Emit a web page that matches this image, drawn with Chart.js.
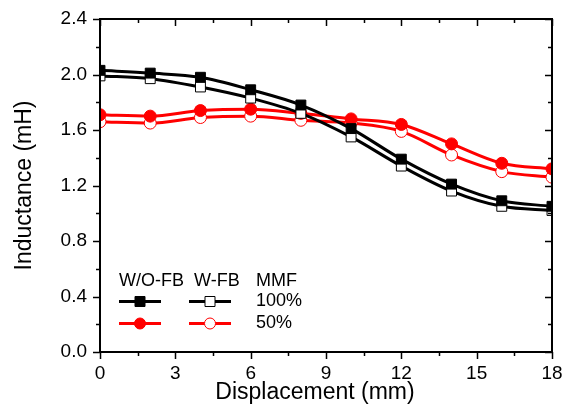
<!DOCTYPE html>
<html>
<head>
<meta charset="utf-8">
<script src="https://cdn.jsdelivr.net/npm/chart.js@4"></script>
<style>
  html, body { margin: 0; padding: 0; background: #fff; }
  #wrap { width: 568px; height: 409px; }
</style>
</head>
<body>
<div id="wrap"><canvas id="chartId" width="568" height="409"></canvas></div>
<script>
// displacement (mm)
var displacement = [0, 2, 4, 6, 8, 10, 12, 14, 16, 18]
// inductance (mH)
var woFb100 = [2.03, 2.01, 1.98, 1.89, 1.78, 1.61, 1.39, 1.21, 1.09, 1.05]
var wFb100  = [1.99, 1.97, 1.91, 1.83, 1.72, 1.55, 1.34, 1.16, 1.05, 1.02]
var woFb50  = [1.71, 1.70, 1.74, 1.75, 1.72, 1.68, 1.64, 1.50, 1.36, 1.32]
var wFb50   = [1.66, 1.65, 1.69, 1.70, 1.67, 1.65, 1.59, 1.42, 1.30, 1.26]
var xTicks = [0, 3, 6, 9, 12, 15, 18]
var yTicks = [0.0, 0.4, 0.8, 1.2, 1.6, 2.0, 2.4]

function pts(ys){
    return displacement.map((x, i) => ({x: x, y: ys[i]}))
}

var font = "'Liberation Sans', Arial, sans-serif"

// frame: ticks out on bottom/left, in on top/right + x title + the table-like legend
const framePlugin = {
    id: 'frame',
    afterDraw(chart){
        const ctx = chart.ctx
        const a = chart.chartArea
        const xs = chart.scales.x, ys = chart.scales.y
        ctx.save()
        ctx.strokeStyle = '#000'
        ctx.lineWidth = 2
        ctx.strokeRect(a.left, a.top, a.right - a.left, a.bottom - a.top)
        ctx.lineWidth = 1.5
        ctx.beginPath()
        for (let v = 0; v <= 18.001; v += 1.5) {
            const p = Math.round(xs.getPixelForValue(v)) + 0.5
            const len = (Math.abs(v % 3) < 0.01) ? 7 : 4
            ctx.moveTo(p, a.bottom); ctx.lineTo(p, a.bottom + len)
            ctx.moveTo(p, a.top); ctx.lineTo(p, a.top + len)
        }
        for (let v = 0; v <= 2.4001; v += 0.2) {
            const p = Math.round(ys.getPixelForValue(v)) + 0.5
            const major = Math.abs((v / 0.4) - Math.round(v / 0.4)) < 0.01
            const len = major ? 7 : 4
            ctx.moveTo(a.left, p); ctx.lineTo(a.left - len, p)
            ctx.moveTo(a.right, p); ctx.lineTo(a.right - len, p)
        }
        ctx.stroke()

        // x axis title (sits a bit left of centre in the original)
        ctx.fillStyle = '#000'
        ctx.font = '23px ' + font
        ctx.textAlign = 'center'
        ctx.textBaseline = 'alphabetic'
        ctx.fillText('Displacement (mm)', 315, 399)

        // legend
        ctx.textAlign = 'left'
        ctx.font = '18px ' + font
        ctx.textBaseline = 'middle'
        ctx.fillText('W/O-FB', 119, 281)
        ctx.fillText('W-FB', 194, 281)
        ctx.fillText('MMF', 256, 281)
        ctx.fillText('100%', 256, 301)
        ctx.fillText('50%', 256, 323)
        const rows = [
            {y: 301.5, c: '#000', shape: 'rect'},
            {y: 323.5, c: '#ff0000', shape: 'circle'}
        ]
        rows.forEach(r => {
            [[119, 161, true], [189, 231, false]].forEach(([x0, x1, filled]) => {
                ctx.strokeStyle = r.c
                ctx.lineWidth = 3
                ctx.beginPath(); ctx.moveTo(x0, r.y); ctx.lineTo(x1, r.y); ctx.stroke()
                const cx = (x0 + x1) / 2
                ctx.lineWidth = 1
                ctx.fillStyle = filled ? r.c : '#fff'
                ctx.beginPath()
                if (r.shape === 'rect') ctx.rect(cx - 5, r.y - 5, 10, 10)
                else ctx.arc(cx, r.y, 5.5, 0, Math.PI * 2)
                ctx.fill(); ctx.stroke()
            })
        })
        ctx.restore()
    }
}

function ds(label, ys, color, style, filled){
    return {
        label: label,
        data: pts(ys),
        borderColor: color,
        borderWidth: 3,
        backgroundColor: filled ? color : '#fff',
        pointBackgroundColor: filled ? color : '#fff',
        pointBorderColor: color,
        pointBorderWidth: 1,
        pointStyle: style,
        pointRadius: style === 'rect' ? 7 : 6,
        fill: false,
        tension: 0.4,
        cubicInterpolationMode: 'monotone'
    }
}

var chrt = document.getElementById('chartId').getContext('2d')
var lineChart = new Chart(chrt, {
    type: 'line',
    data: {
        datasets: [
            ds('W/O-FB 100%', woFb100, '#000', 'rect', true),
            ds('W-FB 100%', wFb100, '#000', 'rect', false),
            ds('W/O-FB 50%', woFb50, '#ff0000', 'circle', true),
            ds('W-FB 50%', wFb50, '#ff0000', 'circle', false)
        ]
    },
    options: {
        responsive: false,
        animation: false,
        layout: { padding: { top: 19, right: 16, left: 0, bottom: 0 } },
        plugins: {
            legend: { display: false },
            tooltip: { enabled: false }
        },
        scales: {
            x: {
                type: 'linear',
                min: 0, max: 18,
                afterBuildTicks: s => { s.ticks = xTicks.map(v => ({value: v})) },
                afterFit: s => { s.height = 57 },
                grid: { display: false },
                border: { display: false },
                ticks: {
                    color: '#000',
                    font: { family: font, size: 19 },
                    padding: 2,
                    maxRotation: 0,
                    callback: v => String(v)
                },
                title: { display: false }
            },
            y: {
                type: 'linear',
                min: 0, max: 2.4,
                afterBuildTicks: s => { s.ticks = yTicks.map(v => ({value: v})) },
                afterFit: s => { s.width = 100 },
                grid: { display: false },
                border: { display: false },
                ticks: {
                    color: '#000',
                    font: { family: font, size: 19 },
                    padding: 5,
                    callback: v => Number(v).toFixed(1)
                },
                title: {
                    display: true,
                    text: 'Inductance (mH)',
                    color: '#000',
                    font: { family: font, size: 23 },
                    padding: { top: 11, bottom: 4 }
                }
            }
        }
    },
    plugins: [framePlugin]
})
</script>
</body>
</html>
